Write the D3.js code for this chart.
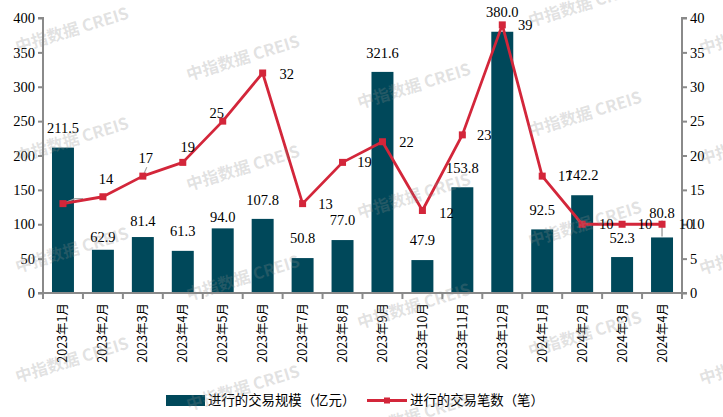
<!DOCTYPE html>
<html>
<head>
<meta charset="utf-8">
<script src="https://cdn.jsdelivr.net/npm/d3@7/dist/d3.min.js"></script>
<style>
  html, body { margin: 0; padding: 0; background: #fff; }
  svg { display: block; }
</style>
</head>
<body>
<svg id="chart" width="723" height="417"></svg>
<script>
// ---------------- data ----------------
const categories = ["2023年1月","2023年2月","2023年3月","2023年4月","2023年5月","2023年6月","2023年7月","2023年8月","2023年9月","2023年10月","2023年11月","2023年12月","2024年1月","2024年2月","2024年3月","2024年4月"];
const scaleValues = [211.5, 62.9, 81.4, 61.3, 94.0, 107.8, 50.8, 77.0, 321.6, 47.9, 153.8, 380.0, 92.5, 142.2, 52.3, 80.8]; // 亿元
const countValues = [13, 14, 17, 19, 25, 32, 13, 19, 22, 12, 23, 39, 17, 10, 10, 10]; // 笔
const leftTicks = [0, 50, 100, 150, 200, 250, 300, 350, 400];
const rightTicks = [0, 5, 10, 15, 20, 25, 30, 35, 40];
const seriesNames = ["进行的交易规模（亿元）", "进行的交易笔数（笔）"];
const watermarkText = "中指数据  CREIS";

// ---------------- layout (not data) ----------------
const barLabelLift = [20, 13, 16, 20, 11, 19, 20, 20, 19, 20, 19, 20, 19, 20, 19, 25];
const lineLabelOffset = [null, [3,-18], [3,-18], [5,-15], [-6,-8], [24,1], [23,0], [22,0], [24,0], [24,2], [22,0], [23,0], [23,0], [24,0], [23,0], [24,0]];

const svg = d3.select("#chart");
const W = 723, H = 417;
const m = {left: 43, right: 723 - 682, top: 18, bottom: 417 - 293};
const x0 = m.left, x1 = W - m.right, yTop = m.top, yBot = H - m.bottom;

const barColor = "#00485a";
const lineColor = "#d3263a";
const axisColor = "#8a8a8a";
const serif = "'Liberation Serif','Times New Roman',serif";
const cjk = "'Noto Sans CJK SC','Noto Sans',sans-serif";

const xb = d3.scaleBand().domain(categories).range([x0, x1]);
const yL = d3.scaleLinear().domain([0, 400]).range([yBot, yTop]);
const yR = d3.scaleLinear().domain([0, 40]).range([yBot, yTop]);
const cx = c => xb(c) + xb.bandwidth() / 2;
const barW = xb.bandwidth() * 0.55;

// bars
svg.append("g").selectAll("rect").data(scaleValues).join("rect")
  .attr("x", (d, i) => cx(categories[i]) - barW / 2)
  .attr("width", barW)
  .attr("y", d => yL(d))
  .attr("height", d => yBot - yL(d))
  .attr("fill", barColor);

// left axis
const gL = svg.append("g").attr("transform", `translate(${x0},0)`)
  .call(d3.axisLeft(yL).tickValues(leftTicks).tickSize(5).tickPadding(3).tickFormat(d3.format("d")));
// right axis
const gR = svg.append("g").attr("transform", `translate(${x1},0)`)
  .call(d3.axisRight(yR).tickValues(rightTicks).tickSize(5).tickPadding(3).tickFormat(d3.format("d")));
[gL, gR].forEach(g => {
  g.select(".domain").attr("stroke", axisColor).attr("stroke-width", 2).attr("d", g === gL ? `M-5,${yBot}H0V${yTop}H-5` : `M5,${yBot}H0V${yTop}H5`);
  g.selectAll(".tick line").attr("stroke", axisColor).attr("stroke-width", 2);
  g.selectAll(".tick text").attr("fill", "#000").style("font-family", serif).style("font-size", "14.5px");
});

// x axis
const gX = svg.append("g").attr("transform", `translate(0,${yBot})`)
  .call(d3.axisBottom(xb).tickSize(0).tickFormat(""));
gX.select(".domain").attr("stroke", axisColor).attr("stroke-width", 2).attr("d", `M${x0},0H${x1}`);
gX.selectAll(".tick").remove();
const bounds = categories.map(c => xb(c)).concat([x1]);
gX.selectAll("line.b").data(bounds).join("line").attr("class", "b")
  .attr("x1", d => d).attr("x2", d => d).attr("y1", 0).attr("y2", 6)
  .attr("stroke", axisColor).attr("stroke-width", 2);
svg.append("g").selectAll("text").data(categories).join("text")
  .attr("transform", d => `translate(${cx(d)},${yBot + 10}) rotate(-90)`)
  .attr("text-anchor", "end")
  .attr("dy", "0.36em")
  .style("font-family", cjk).style("font-size", "12.5px").attr("fill", "#000")
  .text(d => d);

// bar value labels
svg.append("g").selectAll("text").data(scaleValues).join("text")
  .attr("x", (d, i) => cx(categories[i]))
  .attr("y", (d, i) => yL(d) - barLabelLift[i])
  .attr("dy", "0.35em")
  .attr("text-anchor", "middle")
  .style("font-family", serif).style("font-size", "14.5px").attr("fill", "#000")
  .text(d => d.toFixed(1));

// leader lines
{
  const i = 15, c = cx(categories[i]);
  svg.append("line").attr("x1", c).attr("x2", c).attr("y1", yL(scaleValues[i]) - 1).attr("y2", yL(scaleValues[i]) - barLabelLift[i] + 8)
    .attr("stroke", "#a6a6a6").attr("stroke-width", 1.5);
  const c0 = cx(categories[0]), y0 = yR(countValues[0]);
  svg.append("path").attr("d", `M${c0},${y0}L${c0 + 12},${y0 - 5}H${c0 + 20}`).attr("fill", "none").attr("stroke", "#a6a6a6").attr("stroke-width", 1.2);
  const c2 = cx(categories[2]), y2 = yR(countValues[2]);
  svg.append("line").attr("x1", c2).attr("y1", y2).attr("x2", c2 + 4).attr("y2", y2 - 9).attr("stroke", "#a6a6a6").attr("stroke-width", 1.2);
}

// line
const line = d3.line().x((d, i) => cx(categories[i])).y(d => yR(d));
svg.append("path").datum(countValues).attr("d", line)
  .attr("fill", "none").attr("stroke", lineColor).attr("stroke-width", 2.8).attr("stroke-linejoin", "round");
svg.append("g").selectAll("rect").data(countValues).join("rect")
  .attr("x", (d, i) => cx(categories[i]) - 3.5).attr("y", d => yR(d) - 3.5)
  .attr("width", 7).attr("height", 7).attr("fill", lineColor);

// line value labels
svg.append("g").selectAll("text").data(countValues.map((v, i) => ({v, i})).filter(d => lineLabelOffset[d.i])).join("text")
  .attr("x", d => cx(categories[d.i]) + lineLabelOffset[d.i][0])
  .attr("y", d => yR(d.v) + lineLabelOffset[d.i][1])
  .attr("dy", "0.35em")
  .attr("text-anchor", "middle")
  .style("font-family", serif).style("font-size", "14.5px").attr("fill", "#000")
  .text(d => d.v);

// legend
const lg = svg.append("g");
lg.append("rect").attr("x", 166).attr("y", 395).attr("width", 39).attr("height", 11).attr("fill", barColor);
lg.append("text").attr("x", 208).attr("y", 400.5).attr("dy", "0.36em")
  .style("font-family", cjk).style("font-size", "13.4px").attr("fill", "#000").text(seriesNames[0]);
lg.append("line").attr("x1", 367).attr("x2", 407).attr("y1", 400.5).attr("y2", 400.5).attr("stroke", lineColor).attr("stroke-width", 2.8);
lg.append("rect").attr("x", 384).attr("y", 397.5).attr("width", 6).attr("height", 6).attr("fill", lineColor);
lg.append("text").attr("x", 410).attr("y", 400.5).attr("dy", "0.36em")
  .style("font-family", cjk).style("font-size", "13.4px").attr("fill", "#000").text(seriesNames[1]);

// watermark
const wm = svg.append("g").attr("pointer-events", "none");
for (let i = 0; i < 5; i++) {
  for (let j = -1; j < 4; j++) {
    const wx = 72 + 171 * i, wy = 30 + 28 * i + 110 * j;
    if (wy < -10 || wy > 420) continue;
    wm.append("text")
      .attr("transform", `translate(${wx},${wy}) rotate(-17)`)
      .attr("text-anchor", "middle").attr("dy", "0.35em")
      .style("font-family", cjk).style("font-size", "16.5px").style("font-weight", "bold")
      .attr("fill", "#8c8c8c").attr("fill-opacity", 0.26)
      .text(watermarkText);
  }
}
</script>
</body>
</html>
